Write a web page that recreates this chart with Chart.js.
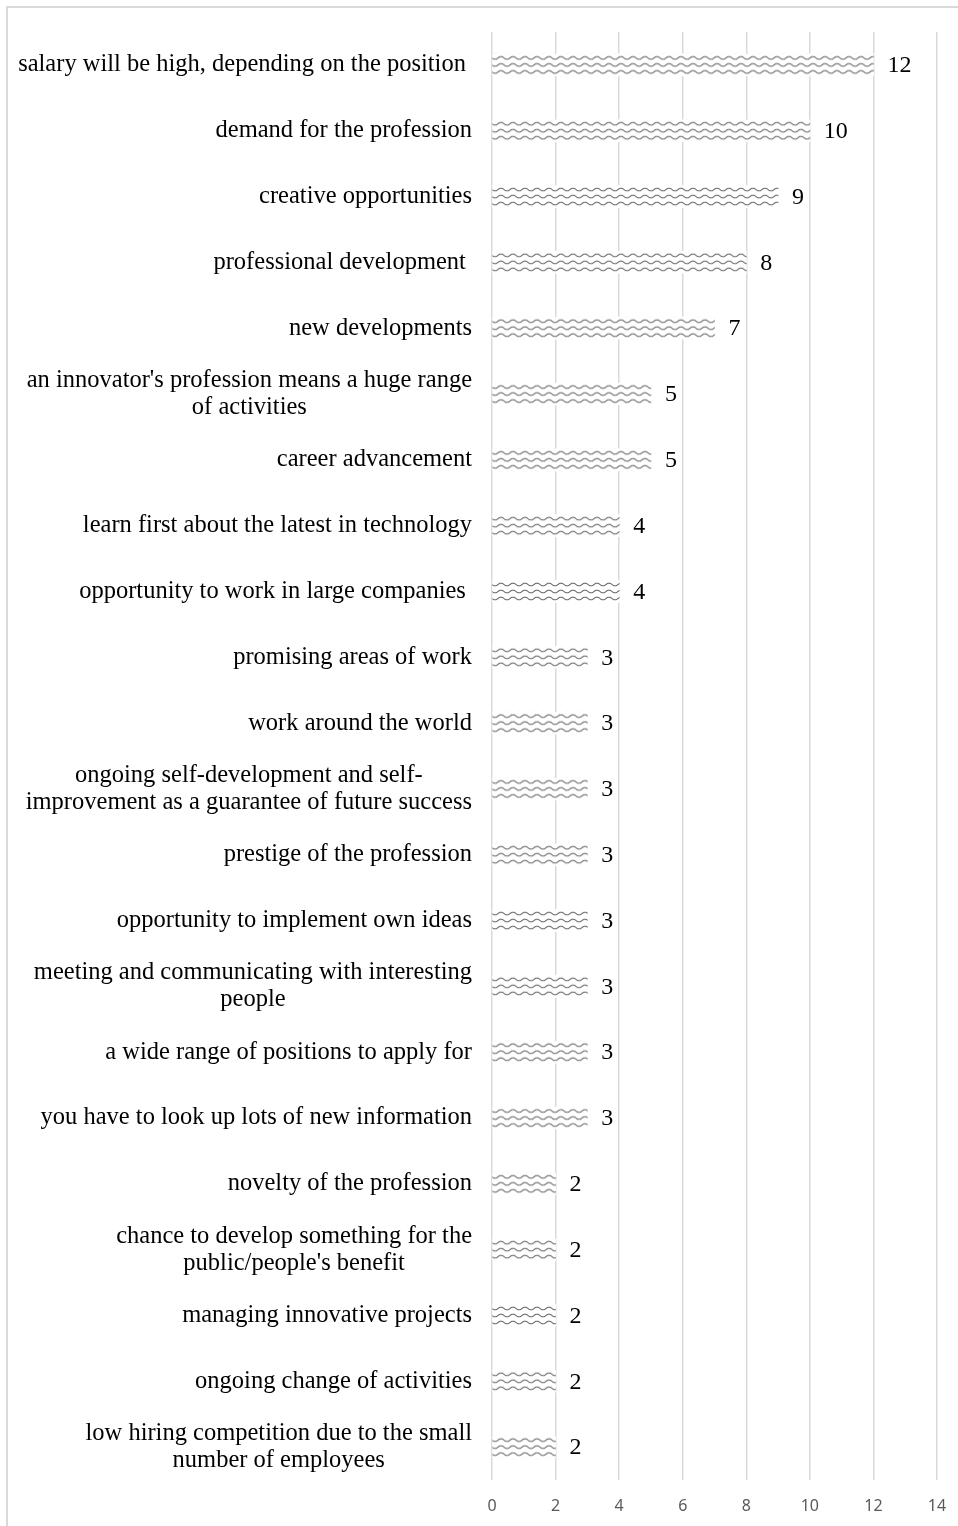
<!DOCTYPE html>
<html>
<head>
<meta charset="utf-8">
<script src="https://cdn.jsdelivr.net/npm/chart.js@4.4.0/dist/chart.umd.min.js"></script>
<style>
  html, body { margin: 0; padding: 0; background: #fff; overflow: hidden; }
  #frame { position: absolute; left: 6px; top: 6px; width: 1000px; height: 1600px;
           border-left: 2px solid #d9d9d9; border-top: 2px solid #d9d9d9; }
  #wrap { position: absolute; left: 0; top: 0; width: 958px; height: 1526px; }
</style>
</head>
<body>
<div id="frame"></div>
<div id="wrap"><canvas id="reasonsChart"></canvas></div>
<script>
// reasons for choosing the profession, number of answers
const categories = [
    'salary will be high, depending on the position ',
    'demand for the profession',
    'creative opportunities',
    'professional development ',
    'new developments',
    ["an innovator's profession means a huge range", 'of activities'],
    'career advancement',
    'learn first about the latest in technology',
    'opportunity to work in large companies ',
    'promising areas of work',
    'work around the world',
    ['ongoing self-development and self-', 'improvement as a guarantee of future success'],
    'prestige of the profession',
    'opportunity to implement own ideas',
    ['meeting and communicating with interesting', 'people'],
    'a wide range of positions to apply for',
    'you have to look up lots of new information',
    'novelty of the profession',
    ['chance to develop something for the', "public/people's benefit"],
    'managing innovative projects',
    'ongoing change of activities',
    ['low hiring competition due to the small', 'number of employees']
];
const answers = [12, 10, 9, 8, 7, 5, 5, 4, 4, 3, 3, 3, 3, 3, 3, 3, 3, 2, 2, 2, 2, 2];
const xTicks = [0, 2, 4, 6, 8, 10, 12, 14];

const serif = '"Liberation Serif", "Times New Roman", serif';
const BAR_H = 22;

// wavy hatch like the office pattern fill
const waveTile = document.createElement('canvas');
(function() {
    waveTile.width = 12;
    waveTile.height = 7;
    const pc = waveTile.getContext('2d');
    pc.fillStyle = '#ffffff';
    pc.fillRect(0, 0, 12, 7);
    pc.strokeStyle = '#6e6e6e';
    pc.lineWidth = 1.1;
    pc.beginPath();
    for (let x = 0; x <= 12; x += 0.5) {
        const y = 3.5 + 1.3 * Math.sin(x / 12 * Math.PI * 2);
        if (x === 0) pc.moveTo(x, y); else pc.lineTo(x, y);
    }
    pc.stroke();
})();

// one pattern per bar, shifted so the waves sit inside the bar
function barPattern(c) {
    const ctx = c.chart.ctx;
    const pat = ctx.createPattern(waveTile, 'repeat');
    const yScale = c.chart.scales.y;
    if (yScale && c.dataIndex !== undefined) {
        const top = yScale.getPixelForValue(c.dataIndex) - BAR_H / 2 + 0.5;
        pat.setTransform(new DOMMatrix().translate(0, top));
    }
    return pat;
}

// category labels: right aligned block, lines centred inside the block
const categoryLabels = {
    id: 'categoryLabels',
    afterDraw(chart) {
        const ctx = chart.ctx;
        const yScale = chart.scales.y;
        const right = chart.chartArea.left - 20;
        ctx.save();
        ctx.font = '24.5px ' + serif;
        ctx.fillStyle = '#000';
        ctx.textBaseline = 'middle';
        categories.forEach((lab, i) => {
            const lines = Array.isArray(lab) ? lab : [lab];
            const y = yScale.getPixelForValue(i);
            const lh = 27;
            const top = y - (lines.length - 1) * lh / 2;
            if (lines.length === 1) {
                ctx.textAlign = 'right';
                ctx.fillText(lines[0], right, y);
            } else {
                const w = Math.max(...lines.map(l => ctx.measureText(l).width));
                ctx.textAlign = 'center';
                lines.forEach((l, k) => ctx.fillText(l, right - w / 2, top + k * lh));
            }
        });
        ctx.restore();
    }
};

// value at the end of each bar
const valueLabels = {
    id: 'valueLabels',
    afterDatasetsDraw(chart) {
        const ctx = chart.ctx;
        const meta = chart.getDatasetMeta(0);
        ctx.save();
        ctx.font = '24px ' + serif;
        ctx.fillStyle = '#000';
        ctx.textAlign = 'left';
        ctx.textBaseline = 'middle';
        meta.data.forEach((bar, i) => {
            ctx.fillText(String(answers[i]), bar.x + 14, bar.y + 1);
        });
        ctx.restore();
    }
};

document.addEventListener('DOMContentLoaded', function() {
    const ctx = document.getElementById('reasonsChart').getContext('2d');

    new Chart(ctx, {
        type: 'bar',
        data: {
            labels: categories,
            datasets: [{
                data: answers,
                backgroundColor: barPattern,
                borderWidth: 0,
                barThickness: BAR_H
            }]
        },
        options: {
            indexAxis: 'y',
            responsive: true,
            maintainAspectRatio: false,
            animation: false,
            layout: { padding: { top: 32, right: 21, bottom: 0, left: 0 } },
            scales: {
                x: {
                    min: 0,
                    max: 14,
                    afterBuildTicks: function(scale) {
                        scale.ticks = xTicks.map(v => ({ value: v }));
                    },
                    grid: { color: '#d9d9d9', lineWidth: 1.5, drawTicks: false },
                    border: { display: false },
                    ticks: {
                        padding: 17,
                        maxRotation: 0,
                        color: '#595959',
                        font: { family: '"Noto Sans", sans-serif', size: 16 }
                    },
                    afterFit: function(scale) {
                        scale.height = 46;
                        scale.paddingLeft = 0;
                        scale.paddingRight = 0;
                    }
                },
                y: {
                    grid: { display: false, drawTicks: false },
                    border: { display: false },
                    ticks: { display: false },
                    afterFit: function(scale) { scale.width = 492; }
                }
            },
            plugins: {
                legend: { display: false },
                tooltip: { enabled: false }
            }
        },
        plugins: [categoryLabels, valueLabels]
    });
});
</script>
</body>
</html>
